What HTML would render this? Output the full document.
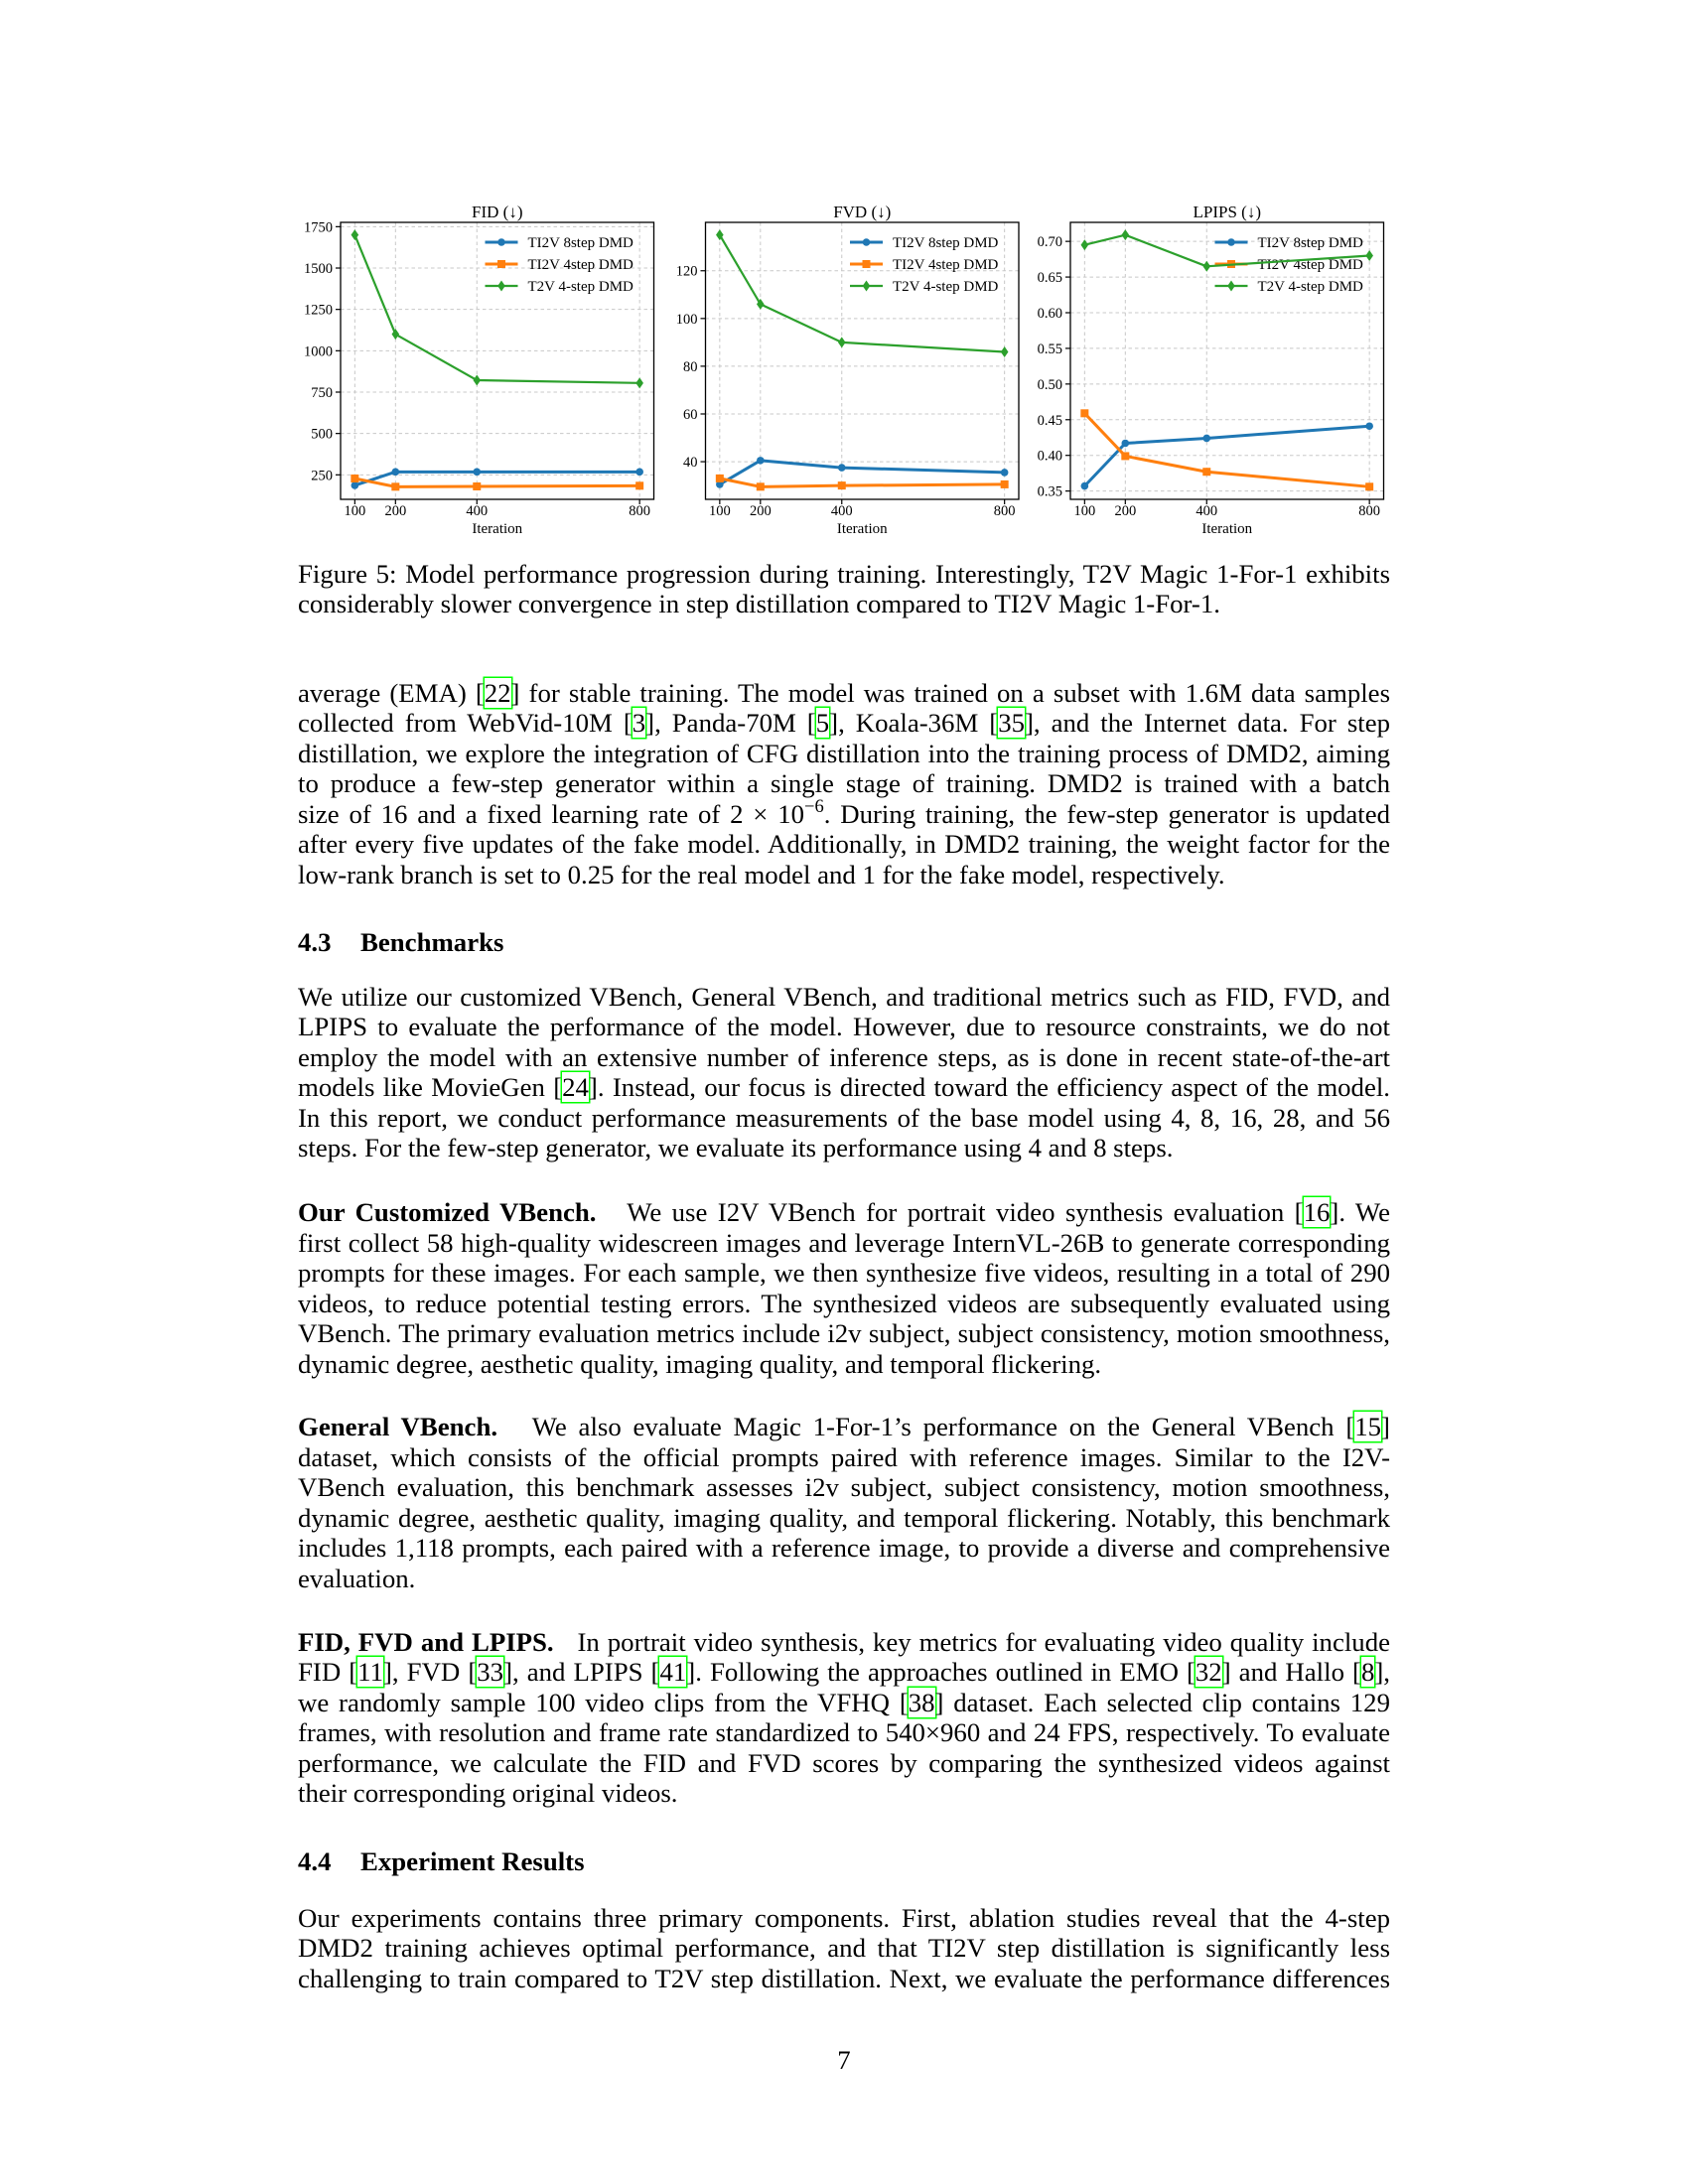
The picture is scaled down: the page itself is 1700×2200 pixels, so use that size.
<!DOCTYPE html>
<html><head><meta charset="utf-8">
<style>
html,body{margin:0;padding:0;background:#fff;}
body{width:1700px;height:2200px;position:relative;overflow:hidden;font-family:"Liberation Serif",serif;color:#000;}
.l,.ll{position:absolute;left:300px;width:1100px;font-size:26.8px;line-height:30px;white-space:nowrap;}
.l{text-align:justify;text-align-last:justify;}
.ll{text-align:left;}
.c{box-shadow:0 0 0 1.5px #00ff00;}
sup{font-size:18.5px;line-height:0;vertical-align:0;position:relative;top:-11px;}
.h{position:absolute;left:300px;font-size:26.8px;line-height:30px;font-weight:bold;white-space:nowrap;}
#fig{position:absolute;left:0;top:0;}
</style></head>
<body>
<svg id="fig" width="1700" height="560"></svg>

<div class="l" style="top:562.8px">Figure 5: Model performance progression during training. Interestingly, T2V Magic 1-For-1 exhibits</div>
<div class="ll" style="top:592.8px">considerably slower convergence in step distillation compared to TI2V Magic 1-For-1.</div>

<div>
<div class="l" style="top:682.8px">average (EMA) [<span class="c">22</span>] for stable training. The model was trained on a subset with 1.6M data samples</div>
<div class="l" style="top:713.3px">collected from WebVid-10M [<span class="c">3</span>], Panda-70M [<span class="c">5</span>], Koala-36M [<span class="c">35</span>], and the Internet data. For step</div>
<div class="l" style="top:743.8px">distillation, we explore the integration of CFG distillation into the training process of DMD2, aiming</div>
<div class="l" style="top:774.3px">to produce a few-step generator within a single stage of training. DMD2 is trained with a batch</div>
<div class="l" style="top:804.8px">size of 16 and a fixed learning rate of 2 × 10<sup>−6</sup>. During training, the few-step generator is updated</div>
<div class="l" style="top:835.3px">after every five updates of the fake model. Additionally, in DMD2 training, the weight factor for the</div>
<div class="ll" style="top:865.8px">low-rank branch is set to 0.25 for the real model and 1 for the fake model, respectively.</div>
</div>

<div class="h" style="top:934.1px">4.3<span style="position:absolute;left:63px">Benchmarks</span></div>

<div>
<div class="l" style="top:988.8px">We utilize our customized VBench, General VBench, and traditional metrics such as FID, FVD, and</div>
<div class="l" style="top:1019.3px">LPIPS to evaluate the performance of the model. However, due to resource constraints, we do not</div>
<div class="l" style="top:1049.8px">employ the model with an extensive number of inference steps, as is done in recent state-of-the-art</div>
<div class="l" style="top:1080.3px">models like MovieGen [<span class="c">24</span>]. Instead, our focus is directed toward the efficiency aspect of the model.</div>
<div class="l" style="top:1110.8px">In this report, we conduct performance measurements of the base model using 4, 8, 16, 28, and 56</div>
<div class="ll" style="top:1141.3px">steps. For the few-step generator, we evaluate its performance using 4 and 8 steps.</div>
</div>

<div>
<div class="l" style="top:1206.3px"><b>Our Customized VBench.</b>&nbsp;&nbsp; We use I2V VBench for portrait video synthesis evaluation [<span class="c">16</span>]. We</div>
<div class="l" style="top:1236.8px">first collect 58 high-quality widescreen images and leverage InternVL-26B to generate corresponding</div>
<div class="l" style="top:1267.3px">prompts for these images. For each sample, we then synthesize five videos, resulting in a total of 290</div>
<div class="l" style="top:1297.8px">videos, to reduce potential testing errors. The synthesized videos are subsequently evaluated using</div>
<div class="l" style="top:1328.3px">VBench. The primary evaluation metrics include i2v subject, subject consistency, motion smoothness,</div>
<div class="ll" style="top:1358.8px">dynamic degree, aesthetic quality, imaging quality, and temporal flickering.</div>
</div>

<div>
<div class="l" style="top:1422.4px"><b>General VBench.</b>&nbsp;&nbsp; We also evaluate Magic 1-For-1’s performance on the General VBench [<span class="c">15</span>]</div>
<div class="l" style="top:1452.9px">dataset, which consists of the official prompts paired with reference images. Similar to the I2V-</div>
<div class="l" style="top:1483.4px">VBench evaluation, this benchmark assesses i2v subject, subject consistency, motion smoothness,</div>
<div class="l" style="top:1513.9px">dynamic degree, aesthetic quality, imaging quality, and temporal flickering. Notably, this benchmark</div>
<div class="l" style="top:1544.4px">includes 1,118 prompts, each paired with a reference image, to provide a diverse and comprehensive</div>
<div class="ll" style="top:1574.9px">evaluation.</div>
</div>

<div>
<div class="l" style="top:1638.6px"><b>FID, FVD and LPIPS.</b>&nbsp;&nbsp; In portrait video synthesis, key metrics for evaluating video quality include</div>
<div class="l" style="top:1669.1px">FID [<span class="c">11</span>], FVD [<span class="c">33</span>], and LPIPS [<span class="c">41</span>]. Following the approaches outlined in EMO [<span class="c">32</span>] and Hallo [<span class="c">8</span>],</div>
<div class="l" style="top:1699.6px">we randomly sample 100 video clips from the VFHQ [<span class="c">38</span>] dataset. Each selected clip contains 129</div>
<div class="l" style="top:1730.1px">frames, with resolution and frame rate standardized to 540×960 and 24 FPS, respectively. To evaluate</div>
<div class="l" style="top:1760.6px">performance, we calculate the FID and FVD scores by comparing the synthesized videos against</div>
<div class="ll" style="top:1791.1px">their corresponding original videos.</div>
</div>

<div class="h" style="top:1860.4px">4.4<span style="position:absolute;left:63px">Experiment Results</span></div>

<div>
<div class="l" style="top:1916.5px">Our experiments contains three primary components. First, ablation studies reveal that the 4-step</div>
<div class="l" style="top:1947px">DMD2 training achieves optimal performance, and that TI2V step distillation is significantly less</div>
<div class="l" style="top:1977.5px">challenging to train compared to T2V step distillation. Next, we evaluate the performance differences</div>
</div>

<div style="position:absolute;left:0;width:1700px;top:2060px;text-align:center;font-size:26.8px;line-height:30px">7</div>

<script>
const iterations = [100, 200, 400, 800];
const xTicks = [100, 200, 400, 800];
const fid8 = [186, 268, 268, 268];
const fid4 = [228, 178, 180, 184];
const fidT2V = [1700, 1100, 822, 805];
const fidTicks = [250, 500, 750, 1000, 1250, 1500, 1750];
const fvd8 = [30.5, 40.5, 37.5, 35.5];
const fvd4 = [33, 29.5, 30, 30.5];
const fvdT2V = [135, 106, 90, 86];
const fvdTicks = [40, 60, 80, 100, 120];
const lp8 = [0.357, 0.417, 0.424, 0.441];
const lp4 = [0.459, 0.399, 0.377, 0.356];
const lpT2V = [0.695, 0.709, 0.665, 0.680];
const lpTicks = [0.35, 0.40, 0.45, 0.50, 0.55, 0.60, 0.65, 0.70];
const seriesNames = ["TI2V 8step DMD", "TI2V 4step DMD", "T2V 4-step DMD"];

const NS = "http://www.w3.org/2000/svg";
const svg = document.getElementById("fig");
const COLORS = ["#1f77b4", "#ff7f0e", "#2ca02c"];
const WIDTHS = [3, 3, 2.2];
function mk(tag, attrs, parent) {
  const e = document.createElementNS(NS, tag);
  for (const k in attrs) e.setAttribute(k, attrs[k]);
  (parent || svg).appendChild(e);
  return e;
}
function marker(g, kind, x, y, color) {
  let m;
  if (kind === 0) m = mk("circle", {cx: x, cy: y, r: 3.8, fill: color}, g);
  else if (kind === 1) m = mk("rect", {x: x - 4, y: y - 4, width: 8, height: 8, fill: color}, g);
  else m = mk("polygon", {points: `${x},${y-5.5} ${x+3.8},${y} ${x},${y+5.5} ${x-3.8},${y}`, fill: color}, g);
  return m;
}
function panel(idx, left, title, series, ticks, fmt) {
  const top = 224, bottom = 503, right = left + 315.5;
  const g = mk("g", {});
  
  
  const all = [].concat(...series);
  const mn = Math.min(...all), mx = Math.max(...all), pad = (mx - mn) * 0.05;
  const y0 = mn - pad, y1 = mx + pad;
  const xmn = 100 - 35, xmx = 800 + 35;
  const X = v => left + (v - xmn) / (xmx - xmn) * (right - left);
  const Y = v => bottom - (v - y0) / (y1 - y0) * (bottom - top);
  ticks.forEach(t => {
    const gl = mk("line", {x1: left, x2: right, y1: Y(t), y2: Y(t), stroke: "#c8c8c8", "stroke-width": 1, "stroke-dasharray": "3.5,3"}, g);
    
    
    mk("line", {x1: left - 5, x2: left, y1: Y(t), y2: Y(t), stroke: "#000", "stroke-width": 1.2}, g);
    const tl = mk("text", {x: left - 8, y: Y(t) + 5, "text-anchor": "end", "font-size": 14.5, "font-family": "Liberation Serif, serif"}, g);
    tl.textContent = fmt(t);
    
    
  });
  xTicks.forEach(t => {
    const gl = mk("line", {x1: X(t), x2: X(t), y1: top, y2: bottom, stroke: "#c8c8c8", "stroke-width": 1, "stroke-dasharray": "3.5,3"}, g);
    
    
    mk("line", {x1: X(t), x2: X(t), y1: bottom, y2: bottom + 5, stroke: "#000", "stroke-width": 1.2}, g);
    const tl = mk("text", {x: X(t), y: 519, "text-anchor": "middle", "font-size": 14.5, "font-family": "Liberation Serif, serif"}, g);
    tl.textContent = t;
    
    
  });
  const xl = mk("text", {x: (left + right) / 2, y: 537, "text-anchor": "middle", "font-size": 15, "font-family": "Liberation Serif, serif"}, g);
  xl.textContent = "Iteration";
  
  
  const tt = mk("text", {x: (left + right) / 2, y: 219, "text-anchor": "middle", "font-size": 17, "font-family": "Liberation Serif, DejaVu Sans, serif"}, g);
  tt.textContent = title;
  
  
  seriesNames.forEach((n, i) => {
    const ly = top + 20 + i * 22;
    const lg = mk("g", {}, g);
    
    
    mk("line", {x1: right - 170, x2: right - 137, y1: ly, y2: ly, stroke: COLORS[i], "stroke-width": WIDTHS[i]}, lg);
    marker(lg, i, right - 153.5, ly, COLORS[i]);
    const t = mk("text", {x: right - 127, y: ly + 5, "font-size": 15, "font-family": "Liberation Serif, serif"}, lg);
    t.textContent = n;
  });
  series.forEach((vals, i) => {
    const sg = mk("g", {}, g);
    
    
    const pts = vals.map((v, j) => X(iterations[j]) + "," + Y(v)).join(" ");
    mk("polyline", {points: pts, fill: "none", stroke: COLORS[i], "stroke-width": WIDTHS[i], "stroke-linejoin": "round"}, sg);
    vals.forEach((v, j) => {
      const m = marker(sg, i, X(iterations[j]), Y(v), COLORS[i]);
      
      
    });
  });
  const fr = mk("rect", {x: left, y: top, width: right - left, height: bottom - top, fill: "none", stroke: "#000", "stroke-width": 1.3}, g);
  
  
}
panel(0, 343, "FID (↓)", [fid8, fid4, fidT2V], fidTicks, t => String(t));
panel(1, 710.5, "FVD (↓)", [fvd8, fvd4, fvdT2V], fvdTicks, t => String(t));
panel(2, 1078, "LPIPS (↓)", [lp8, lp4, lpT2V], lpTicks, t => t.toFixed(2));
</script>
</body></html>
